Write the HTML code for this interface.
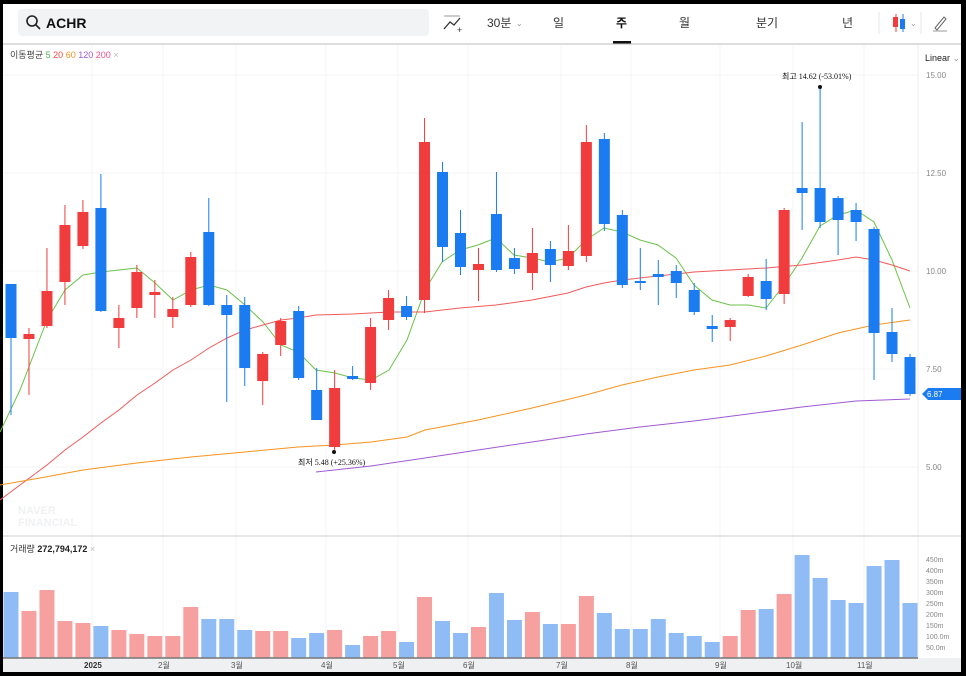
<!DOCTYPE html>
<html><head><meta charset="utf-8">
<style>
html,body{margin:0;padding:0;background:#000;}
svg{position:absolute;left:0;top:0;display:block;}
</style></head><body>
<svg id="s" width="966" height="676" xmlns="http://www.w3.org/2000/svg" style="font-family:'Liberation Sans','Noto Sans CJK KR',sans-serif">
<rect x="0" y="0" width="966" height="676" fill="#000"/>
<rect x="3" y="4" width="958" height="668" fill="#fff"/>
<!-- header -->
<rect x="18" y="9" width="411" height="27" rx="4" fill="#f2f3f5"/>
<circle cx="32" cy="21" r="5" fill="none" stroke="#222" stroke-width="1.6"/>
<line x1="36" y1="25" x2="40" y2="29" stroke="#222" stroke-width="1.6"/>
<text x="46" y="28" font-size="14" font-weight="bold" fill="#111">ACHR</text>
<polyline points="444,29 450,22 454,25 460,18" fill="none" stroke="#333" stroke-width="1.3"/>
<line x1="444" y1="16" x2="460" y2="16" stroke="#999" stroke-width="1"/>
<text x="457" y="33" font-size="9" fill="#333">+</text>
<text x="487" y="27" font-size="12" fill="#333">30분</text>
<text x="516" y="26" font-size="8" fill="#999">⌄</text>
<text x="553" y="27" font-size="12" fill="#333">일</text>
<text x="616" y="27" font-size="12" font-weight="bold" fill="#111">주</text>
<rect x="613" y="41" width="18" height="3" fill="#111"/>
<text x="679" y="27" font-size="12" fill="#333">월</text>
<text x="756" y="27" font-size="12" fill="#333">분기</text>
<text x="842" y="27" font-size="12" fill="#333">년</text>
<line x1="879" y1="12" x2="879" y2="34" stroke="#e5e5e5"/>
<line x1="896" y1="14" x2="896" y2="32" stroke="#f03c3c" stroke-width="1"/><rect x="893" y="17" width="5" height="10" fill="#f03c3c"/>
<line x1="903" y1="14" x2="903" y2="32" stroke="#1a7cf0"/><rect x="900" y="19" width="5" height="10" fill="#1a7cf0"/>
<text x="910" y="26" font-size="8" fill="#999">⌄</text>
<line x1="921" y1="12" x2="921" y2="34" stroke="#e5e5e5"/>
<path d="M935 28 L944 17 L946 19 L937 30 Z" fill="none" stroke="#666" stroke-width="1"/>
<line x1="933" y1="31" x2="947" y2="31" stroke="#999"/>
<line x1="3" y1="44" x2="961" y2="44" stroke="#bbb" stroke-width="1"/>
<g id="grid" stroke="#f6f6f6" stroke-width="1"></g>
<line x1="918" y1="45" x2="918" y2="658" stroke="#eee"/>
<text x="10" y="58" font-size="9" fill="#444">이동평균 <tspan fill="#4caf50">5</tspan> <tspan fill="#f04848">20</tspan> <tspan fill="#f7931e">60</tspan> <tspan fill="#a05ad0">120</tspan> <tspan fill="#f0508c">200</tspan> <tspan fill="#bbb">×</tspan></text>
<text x="925" y="61" font-size="9" fill="#222">Linear <tspan fill="#999">⌄</tspan></text>
<g font-size="8" fill="#888">
<text x="926" y="78">15.00</text><text x="926" y="176">12.50</text><text x="926" y="274">10.00</text><text x="926" y="372">7.50</text><text x="926" y="470">5.00</text>
</g>
<text x="18" y="514" font-size="11" font-weight="bold" fill="#f0f1f3">NAVER</text>
<text x="18" y="526" font-size="11" font-weight="bold" fill="#f0f1f3">FINANCIAL</text>
<g id="ma" fill="none" stroke-width="1"></g>
<g id="cd"></g>
<circle cx="820" cy="87" r="2" fill="#111"/>
<text x="782" y="79" font-size="8" fill="#111" font-family="'Liberation Serif','Noto Sans CJK KR',serif">최고  14.62 (-53.01%)</text>
<circle cx="334" cy="452" r="2" fill="#111"/>
<text x="298" y="465" font-size="8" fill="#111" font-family="'Liberation Serif','Noto Sans CJK KR',serif">최저  5.48 (+25.36%)</text>
<path d="M922 394 L928 388 L961 388 L961 400 L928 400 Z" fill="#1a7cf0"/>
<text x="927" y="397" font-size="8" fill="#fff">6.87</text>
<line x1="3" y1="536" x2="961" y2="536" stroke="#ddd" stroke-width="1.5"/>
<text x="10" y="552" font-size="9" fill="#333">거래량 <tspan font-weight="bold" fill="#222">272,794,172</tspan> <tspan fill="#bbb">×</tspan></text>
<g font-size="7" fill="#888">
<text x="926" y="562">450m</text><text x="926" y="573">400m</text><text x="926" y="584">350m</text><text x="926" y="595">300m</text><text x="926" y="606">250m</text><text x="926" y="617">200m</text><text x="926" y="628">150m</text><text x="926" y="639">100.0m</text><text x="926" y="650">50.0m</text>
</g>
<g id="vol"></g>
<rect x="3" y="658" width="958" height="14" fill="#eef0f2"/>
<line x1="3" y1="658" x2="918" y2="658" stroke="#777" stroke-width="1.5"/>
<g font-size="8" fill="#555">
<text x="84" y="668" font-weight="bold" fill="#333">2025</text><text x="158" y="668">2월</text><text x="231" y="668">3월</text><text x="321" y="668">4월</text><text x="393" y="668">5월</text><text x="463" y="668">6월</text><text x="556" y="668">7월</text><text x="626" y="668">8월</text><text x="715" y="668">9월</text><text x="786" y="668">10월</text><text x="857" y="668">11월</text>
</g>
</svg>
<script>
const NS="http://www.w3.org/2000/svg";
function el(p,t,a){const e=document.createElementNS(NS,t);for(const k in a)e.setAttribute(k,a[k]);document.getElementById(p).appendChild(e);return e;}
[92,163,236,326,398,468,561,631,720,793,864].forEach(x=>el("grid","line",{x1:x,y1:45,x2:x,y2:658}));
[75,173,271,369,467].forEach(y=>el("grid","line",{x1:3,y1:y,x2:918,y2:y}));
const C=[["b",284,338,284,415,592],["r",334,339,328,395,611],["r",291,326,248,328,590],["r",225,282,205,305,621],["r",212,246,200,249,623],["b",208,311,174,312,626],["r",318,328,305,348,630],["r",272,308,265,318,634],["r",292,295,280,318,636],["r",309,317,297,328,636],["r",257,305,252,307,607],["b",232,305,198,306,619],["b",305,315,295,402,619],["b",305,368,297,386,630],["r",354,381,352,405,631],["r",321,345,318,356,631],["b",311,378,306,380,638],["b",390,420,368,420,633],["r",388,447,370,450,630],["b",376,379,366,380,645],["r",327,383,318,390,636],["r",298,320,290,330,631],["b",306,317,296,320,642],["r",142,300,118,313,597],["b",172,247,162,262,621],["b",233,267,210,275,633],["r",264,270,248,301,627],["b",214,270,172,272,593],["b",258,269,248,274,620],["r",253,273,228,290,612],["b",249,265,241,282,624],["r",251,266,225,270,624],["r",142,256,125,262,596],["b",139,224,133,231,613],["b",215,285,210,288,629],["b",281,283,248,290,629],["b",274,277,260,305,619],["b",271,283,265,298,633],["b",290,312,283,315,636],["b",326,329,315,342,642],["r",320,327,318,341,636],["r",277,296,274,297,610],["b",281,299,259,310,609],["r",210,294,208,304,594],["b",188,193,122,230,555],["b",188,222,87,228,578],["b",198,220,196,255,600],["b",210,222,203,241,603],["b",229,333,227,380,566],["b",332,354,308,362,560],["b",357,394,354,396,603]];
C.forEach((c,i)=>{const x=11+i*17.98;const col=c[0]=="r"?"#f03c3c":"#1a7cf0";const vc=c[0]=="r"?"#f7a0a0":"#90bcf5";
el("cd","line",{x1:x,y1:c[3],x2:x,y2:c[4],stroke:col,"stroke-width":1});
el("cd","rect",{x:x-5.5,y:c[1],width:11,height:Math.max(2,c[2]-c[1]),fill:col});
el("vol","rect",{x:x-7.5,y:c[5],width:15,height:658-c[5],fill:vc});});
const M=[["#6cc24a",[[0,432],[20,390],[47,320],[65,290],[83,275],[101,272],[137,268],[155,283],[173,300],[191,290],[209,285],[227,290],[245,305],[263,322],[281,345],[298,352],[316,370],[335,373],[353,378],[371,380],[389,370],[407,340],[425,290],[442,262],[460,250],[478,245],[496,238],[514,255],[532,258],[550,262],[568,258],[586,240],[604,228],[622,232],[640,240],[658,245],[676,258],[694,285],[712,300],[730,305],[748,305],[766,308],[784,285],[802,258],[820,226],[838,215],[856,210],[874,222],[892,260],[910,308]]],
["#f05a5a",[[0,500],[20,485],[47,465],[65,450],[83,437],[101,423],[119,410],[137,395],[155,383],[173,370],[191,360],[209,348],[227,338],[245,330],[263,325],[281,320],[298,318],[316,315],[353,314],[389,312],[425,312],[460,308],[496,305],[532,300],[568,293],[586,287],[604,283],[622,280],[658,276],[694,272],[730,270],[766,268],[802,265],[838,260],[856,257],[874,260],[892,265],[910,271]]],
["#f7931e",[[0,485],[40,478],[83,470],[137,463],[191,457],[245,452],[298,447],[335,445],[371,442],[407,437],[425,430],[478,420],[532,408],[586,395],[622,385],[658,377],[694,370],[730,365],[766,356],[802,345],[838,333],[874,325],[910,320]]],
["#a05ad0",[[316,472],[371,466],[425,458],[478,450],[532,442],[586,434],[640,427],[694,421],[748,414],[802,407],[856,401],[910,399]]]];
M.forEach(m=>el("ma","polyline",{points:m[1].map(p=>p.join(",")).join(" "),stroke:m[0]}));
</script>
</body></html>
